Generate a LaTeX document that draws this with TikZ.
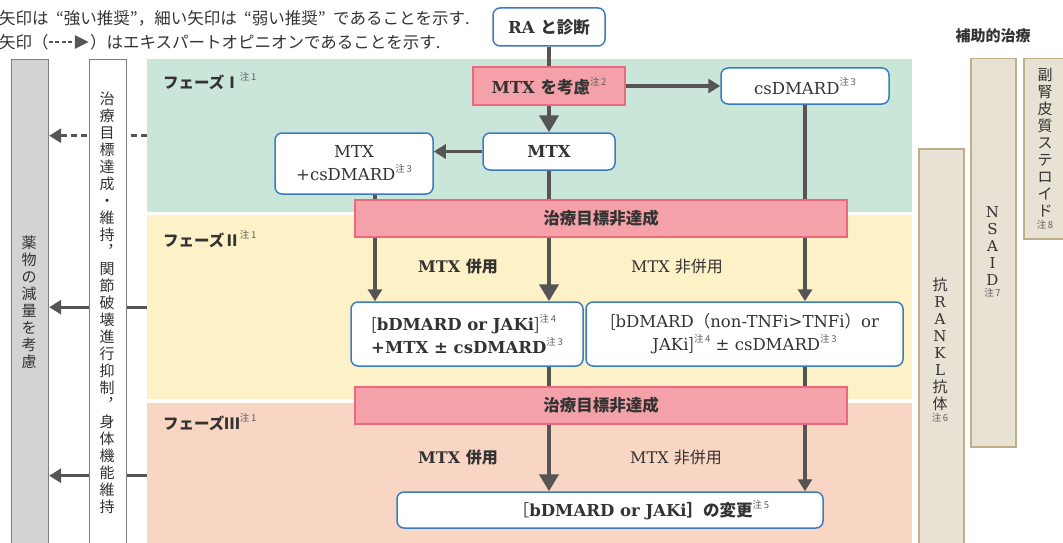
\documentclass[tikz,border=0pt]{standalone}
\usepackage{fontspec}
\setmainfont{DejaVu Serif}
\newfontfamily\jp{Noto Sans CJK JP}
\usetikzlibrary{arrows.meta,positioning,calc}
\definecolor{blu}{RGB}{58,124,193}
\definecolor{grn}{RGB}{202,230,217}
\definecolor{yel}{RGB}{253,241,199}
\definecolor{sal}{RGB}{249,213,196}
\definecolor{pnkf}{RGB}{245,161,169}
\definecolor{pnkd}{RGB}{235,104,127}
\definecolor{arr}{RGB}{85,85,85}
\definecolor{txt}{RGB}{51,51,51}
\definecolor{gcolf}{RGB}{211,211,214}
\definecolor{gcold}{RGB}{125,125,125}
\definecolor{tanf}{RGB}{232,226,213}
\definecolor{tand}{RGB}{190,174,138}
\definecolor{notec}{RGB}{95,95,95}
\newcommand{\fsz}[2]{\fontsize{#1}{#2}\selectfont}
\newcommand{\chu}[1]{\raisebox{0.5em}{\jp\mdseries\fsz{9.5}{10}\color{notec}注\,#1}}
\newcommand{\oq}{\hspace{0.45em}“}
\newcommand{\cq}{”\hspace{0.45em}}

\begin{document}
\begin{tikzpicture}[x=1pt,y=1pt,yscale=-1,xscale=1,
	blubox/.style={draw=blu,line width=1.5pt,fill=white,rounded corners=7pt,inner sep=0pt,text=txt,font=\fsz{16.5}{23}},
	pinkbox/.style={draw=pnkd,line width=1.2pt,fill=pnkf,inner sep=0pt,text=txt,font=\fsz{16.5}{23}},
	band/.style={inner sep=0pt,anchor=north west},
	greycol/.style={draw=gcold,line width=1.2pt,inner sep=0pt,anchor=north west},
	tancol/.style={draw=tand,fill=tanf,line width=1.5pt,inner sep=0pt,anchor=north west},
	vtext/.style={align=center,inner sep=0pt,text=txt,font=\jp\fsz{15}{17}},
	notetxt/.style={inner sep=0pt,text=notec,font=\jp\fsz{9.5}{10}},
	lbl/.style={inner sep=0pt,text=txt,font=\fsz{16}{20}},
	legtxt/.style={inner sep=0pt,text=txt,font=\jp\fsz{16.5}{18}},
	thkline/.style={draw=arr,line width=4.5pt},
	thkarr/.style={thkline,-{Triangle[width=19pt,length=17pt]}},
	thnline/.style={draw=arr,line width=3.2pt},
	thnarr/.style={thnline,-{Triangle[width=14pt,length=12pt]}},
	sidearr/.style={draw=arr,line width=3pt,-{Triangle[width=14pt,length=12pt]}}]
	\useasboundingbox (0,0) rectangle (1063,543);

	% legend
	\node[legtxt,anchor=west] (leg1) at (-1,18) {矢印は\oq 強い推奨”，細い矢印は\oq 弱い推奨\cq であることを示す.};
	\node[legtxt,anchor=west] (leg2a) at (-1,42) {矢印（};
	\draw[draw=arr,line width=2.5pt,dash pattern=on 4pt off 2.5pt,-{Triangle[width=13pt,length=14pt]}] (leg2a.east) -- ++(40,0) coordinate (legtip);
	\node[legtxt,right=1pt of legtip] (leg2b) {）はエキスパートオピニオンであることを示す.};

	% phases
	\node[band,fill=grn,minimum width=765,minimum height=153] (ph1) at (147,59) {};
	\node[band,fill=yel,minimum width=765,minimum height=184] (ph2) at (147,215) {};
	\node[band,fill=sal,minimum width=765,minimum height=145] (ph3) at (147,403) {};
	\node[anchor=west,inner sep=0pt,text=txt,font=\jp\bfseries\fsz{15.5}{18}] (lab1) at (163,81) {フェーズⅠ\chu{1}};
	\node[anchor=west,inner sep=0pt,text=txt,font=\jp\bfseries\fsz{15.5}{18}] (lab2) at (163,239) {フェーズⅡ\chu{1}};
	\node[anchor=west,inner sep=0pt,text=txt,font=\jp\bfseries\fsz{15.5}{18}] (lab3) at (163,422) {フェーズⅢ\chu{1}};

	% left columns
	\node[greycol,fill=gcolf,minimum width=37,minimum height=500] (gcol) at (11,59) {};
	\draw[sidearr,dash pattern=on 6pt off 4pt] (ph1.west) -- (ph1.west -| gcol.east);
	\draw[sidearr] (ph2.west) -- (ph2.west -| gcol.east);
	\draw[sidearr] (ph3.west) -- (ph3.west -| gcol.east);
	\node[greycol,fill=white,minimum width=37,minimum height=500] (wcol) at (89,59) {};
	\node[vtext] (gtxt) at (29,302) {薬\\物\\の\\減\\量\\を\\考\\慮};
	\node[vtext] (wtxt) at (107,303) {治\\療\\目\\標\\達\\成\\・\\維\\持\\︐\\関\\節\\破\\壊\\進\\行\\抑\\制\\︐\\身\\体\\機\\能\\維\\持};

	% right columns
	\node[text=txt,inner sep=0pt,font=\jp\bfseries\fsz{15}{18}] (hojo) at (993,36) {補助的治療};
	\node[tancol,minimum width=45,minimum height=420] (rcol) at (918,148) {};
	\node[tancol,minimum width=45,minimum height=388] (ncol) at (970,58) {};
	\node[tancol,minimum width=47,minimum height=180] (scol) at (1023,58) {};
	\node[vtext,font=\fsz{15}{17}] (rtxt) at (940,344) {{\jp 抗}\\R\\A\\N\\K\\L\\{\jp 抗}\\{\jp 体}};
	\node[notetxt,below=3pt of rtxt] (rnote) {注\,6};
	\node[vtext,font=\fsz{15}{17}] (ntxt) at (992.5,246) {N\\S\\A\\I\\D};
	\node[notetxt,below=3pt of ntxt] (nnote) {注\,7};
	\node[vtext] (stxt) at (1045,142.5) {副\\腎\\皮\\質\\ス\\テ\\ロ\\イ\\ド};
	\node[notetxt,below=3pt of stxt] (snote) {注\,8};

	% flow
	\node[blubox,font=\bfseries\fsz{16.5}{23},minimum width=112,minimum height=38] (ra) at (549,27) {RA {\jp と診断}};
	\node[pinkbox,font=\bfseries\fsz{16.5}{23},minimum width=152,minimum height=38] (mtxc) at (549,86) {MTX {\jp を考慮}\chu{2}};
	\node[blubox,minimum width=168,minimum height=36] (csd) at (805,86) {csDMARD\chu{3}};
	\node[blubox,font=\bfseries\fsz{16.5}{23},minimum width=132,minimum height=37] (mtx) at (549,151.5) {MTX};
	\node[blubox,align=center,minimum width=158,minimum height=61] (mtxcs) at (354,163.5) {MTX\\+csDMARD\chu{3}};
	\node[pinkbox,font=\jp\bfseries\fsz{16.5}{20},minimum width=492,minimum height=37] (bar1) at (601,218.5) {治療目標非達成};
	\node[blubox,font=\bfseries\fsz{16.5}{23},align=left,minimum width=232,minimum height=64] (lbox) at (467,334) {{\jp\mdseries [}bDMARD or JAKi{\jp\mdseries ]}\chu{4}\\+MTX ± csDMARD\chu{3}};
	\node[blubox,align=center,minimum width=317,minimum height=64] (rbox) at (744.5,334) {{\jp [}bDMARD{\jp （}non-TNFi>TNFi{\jp ）}or\\JAKi{\jp ]}\chu{4} ± csDMARD\chu{3}};
	\node[pinkbox,font=\jp\bfseries\fsz{16.5}{20},minimum width=492,minimum height=37] (bar2) at (601,405.5) {治療目標非達成};
	\node[blubox,minimum width=426,minimum height=36] (fbox) at (610,510) {};
	\node[inner sep=0pt,text=txt,font=\bfseries\fsz{16.5}{23}] (ftxt) at (641,510) {{\jp\mdseries ［}bDMARD or JAKi{\jp ］の変更}\chu{5}};

	\node[lbl,font=\bfseries\fsz{16}{20}] (use1) at (458,266) {MTX {\jp 併用}};
	\node[lbl] (nouse1) at (677,266) {MTX {\jp 非併用}};
	\node[lbl,font=\bfseries\fsz{16}{20}] (use2) at (458,457) {MTX {\jp 併用}};
	\node[lbl] (nouse2) at (676,457) {MTX {\jp 非併用}};

	\coordinate (lx) at ([xshift=21pt]mtxcs.south);
	\draw[thkline] (ra.south) -- (mtxc.north);
	\draw[thkarr] (mtxc.south) -- (mtx.north);
	\draw[thnarr] (mtxc.east) -- (csd.west);
	\draw[thnarr] (mtx.west) -- (mtx.west -| mtxcs.east);
	\draw[thkline] (mtx.south) -- (bar1.north -| mtx.south);
	\draw[thkarr] (bar1.south -| mtx.south) -- (lbox.north -| mtx.south);
	\draw[thnline] (lx) -- (lx |- bar1.north);
	\draw[thnarr] (lx |- bar1.south) -- (lx |- lbox.north);
	\draw[thnline] (csd.south) -- (csd.south |- bar1.north);
	\draw[thnarr] (csd.south |- bar1.south) -- (csd.south |- rbox.north);
	\draw[thkline] (lbox.south -| mtx.south) -- (bar2.north -| mtx.south);
	\draw[thkarr] (bar2.south -| mtx.south) -- (fbox.north -| mtx.south);
	\draw[thnline] (rbox.south -| csd.south) -- (bar2.north -| csd.south);
	\draw[thnarr] (bar2.south -| csd.south) -- (fbox.north -| csd.south);
\end{tikzpicture}
\end{document}
